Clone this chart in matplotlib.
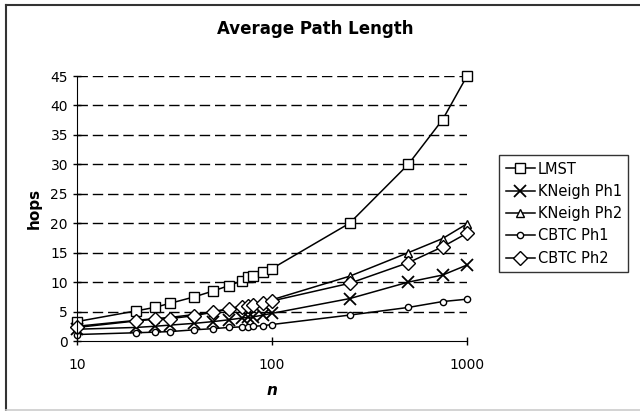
import matplotlib
matplotlib.use('Agg')
import matplotlib.pyplot as plt
from matplotlib.lines import Line2D

n = [10, 20, 25, 30, 40, 50, 60, 70, 75, 80, 90, 100, 250, 500, 750, 1000]

lmst = [3.3, 5.1, 5.7, 6.4, 7.5, 8.5, 9.4, 10.2, 10.8, 11.1, 11.8, 12.3, 20.0, 30.0, 37.6, 45.0]
kneigh_ph1 = [2.0, 2.3, 2.5, 2.7, 3.0, 3.3, 3.6, 3.9, 4.0, 4.1, 4.4, 4.7, 7.2, 10.0, 11.2, 12.9]
kneigh_ph2 = [2.5, 3.5, 3.8, 4.0, 4.5, 5.0, 5.5, 5.9, 6.1, 6.3, 6.7, 7.0, 11.0, 15.0, 17.4, 19.9]
cbtc_ph1 = [1.1, 1.4, 1.5, 1.6, 1.9, 2.1, 2.3, 2.4, 2.4, 2.5, 2.6, 2.8, 4.4, 5.7, 6.7, 7.1]
cbtc_ph2 = [2.3, 3.4, 3.7, 3.8, 4.3, 4.9, 5.4, 5.7, 5.9, 6.1, 6.5, 6.8, 9.8, 13.3, 16.0, 18.3]

names = ['LMST', 'KNeigh Ph1', 'KNeigh Ph2', 'CBTC Ph1', 'CBTC Ph2']

fig = plt.figure(figsize=(6.4, 4.11), dpi=100)
ax = fig.add_axes([77 / 640, 1 - 341 / 411, 390 / 640, 265 / 411])

common = dict(color='black', lw=1.1, mfc='white', mec='black', mew=1.0, clip_on=False)
ax.plot(n, lmst, marker='s', ms=7.5, label=names[0], **common)
ax.plot(n, kneigh_ph1, marker='x', ms=8, label=names[1], color='black', lw=1.1, mew=1.3, clip_on=False)
ax.plot(n, kneigh_ph2, marker='^', ms=6, label=names[2], **common)
ax.plot(n, cbtc_ph1, marker='o', ms=4.5, label=names[3], **common)
ax.plot(n, cbtc_ph2, marker='D', ms=7, label=names[4], **common)

ax.set_xscale('log')
ax.set_xlim(10, 1000)
ax.set_ylim(0, 45)
ax.set_yticks(range(0, 46, 5))
ax.set_xticks([10, 100, 1000])
ax.set_xticklabels(['10', '100', '1000'])
ax.minorticks_off()
for y in range(5, 46, 5):
    ax.axhline(y, color='black', lw=1.0, dashes=(7.5, 3.5), zorder=0)

for s in ['top', 'right']:
    ax.spines[s].set_visible(False)
ax.tick_params(direction='inout', length=6, labelsize=10, width=1)
ax.tick_params(axis='x', pad=9)

ax.set_xlabel('n', fontsize=11, fontweight='bold', style='italic', labelpad=8)
ax.set_ylabel('hops', fontsize=11, fontweight='bold', labelpad=6)
fig.text(315 / 640, 1 - 29 / 411, 'Average Path Length', ha='center', va='center',
         fontsize=12, fontweight='bold')

leg = fig.legend(loc='upper left', bbox_to_anchor=(499 / 640, 1 - 155 / 411),
                 fontsize=10.5, frameon=True, fancybox=False, edgecolor='black',
                 handlelength=2.0, handletextpad=0.2, labelspacing=0.5,
                 borderpad=0.45, borderaxespad=0)
leg.get_frame().set_linewidth(1.0)

fig.add_artist(Line2D([6 / 640, 6 / 640], [1 - 410 / 411, 1 - 5 / 411], color='#333333', lw=1.5))
fig.add_artist(Line2D([6 / 640, 1], [1 - 5 / 411, 1 - 5 / 411], color='#333333', lw=1.5))
fig.add_artist(Line2D([6 / 640, 1], [1 - 410 / 411, 1 - 410 / 411], color='#cccccc', lw=1.2))

fig.savefig('out.png', dpi=100)
